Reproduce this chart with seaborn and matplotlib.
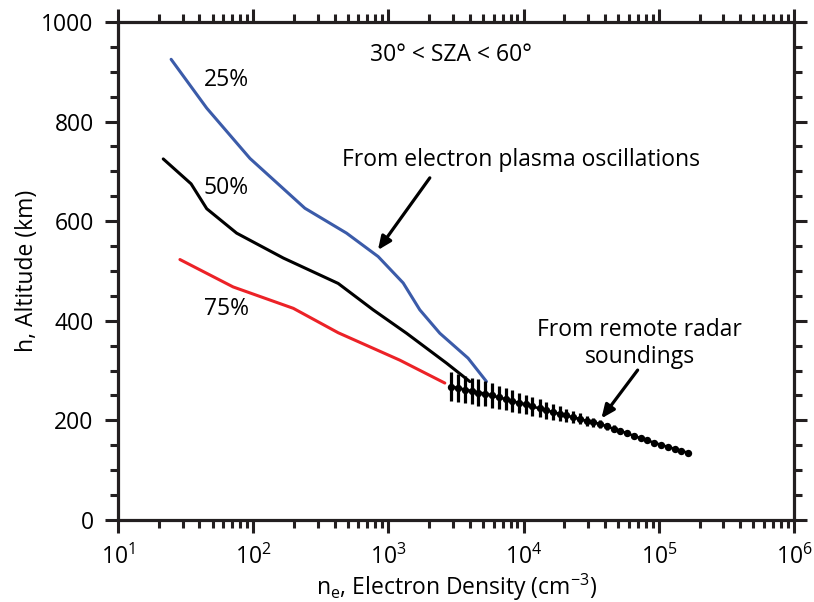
import matplotlib
matplotlib.use("Agg")
import matplotlib.pyplot as plt
import numpy as np
import pandas as pd
import seaborn as sns
from matplotlib.ticker import MultipleLocator, LogLocator, NullFormatter

# ---- data ----
q25_ne = [24.7, 45.3, 94.6, 241, 490, 839, 1285, 1706, 2399, 3880, 5310]
q25_h = [925, 827, 726, 626, 576, 529, 476, 422, 375, 325, 278]

q50_ne = [21.6, 34.7, 45.3, 75.4, 167, 425, 771, 1361, 2688, 4000]
q50_h = [725, 675, 625, 576, 526, 475, 422, 375, 315, 278]

q75_ne = [28.7, 71, 198, 425, 1213, 2612]
q75_h = [523, 468, 425, 376, 321, 275]

radar_ne = [2920, 3280, 3680, 4130, 4630, 5200, 5830, 6550, 7350, 8240,
            9250, 10400, 11600, 13100, 14700, 16400, 18500, 20700, 23200, 26100,
            29200, 32800, 36800, 41300, 46300, 52000, 58300, 65500, 73500, 82400,
            92500, 104000, 116000, 131000, 147000, 164000]
radar_h = [268, 265, 262, 259, 256, 254, 250, 246, 243, 239,
           235, 232, 228, 224, 220, 217, 213, 210, 206, 203,
           199, 196, 193, 188, 183, 179, 174, 169, 164, 160,
           155, 151, 147, 143, 139, 135]
radar_err = [29, 28, 28, 27, 27, 26, 25, 24, 23, 22,
             21, 20, 19, 18, 17, 16, 15, 13, 12, 11,
             10, 9, 8, 7, 7, 6, 5, 5, 4, 4,
             3, 3, 2, 2, 2, 2]

curve_names = ["25%", "50%", "75%"]
curve_colors = {"25%": "#3b5ba9", "50%": "#000000", "75%": "#ec2227"}

# ---- style ----
sns.set_style("ticks")
plt.rcParams["font.family"] = ["Open Sans", "DejaVu Sans"]
plt.rcParams["mathtext.default"] = "regular"
plt.rcParams["text.color"] = "black"
plt.rcParams["axes.labelcolor"] = "black"
plt.rcParams["xtick.color"] = "black"
plt.rcParams["ytick.color"] = "black"

FS = 16.5

fig = plt.figure(figsize=(8.14, 6.02), dpi=100)
ax = fig.add_axes([0.145, 0.1362, 0.8305, 0.8273])

df = pd.concat([
    pd.DataFrame({"ne": q25_ne, "h": q25_h, "q": "25%"}),
    pd.DataFrame({"ne": q50_ne, "h": q50_h, "q": "50%"}),
    pd.DataFrame({"ne": q75_ne, "h": q75_h, "q": "75%"}),
], ignore_index=True)

sns.lineplot(data=df, x="ne", y="h", hue="q", hue_order=curve_names,
             palette=curve_colors, sort=False, estimator=None,
             linewidth=2.2, legend=False, ax=ax)

ax.errorbar(radar_ne, radar_h, yerr=radar_err, fmt="none",
            ecolor="black", elinewidth=2.3, capsize=0, zorder=4)
sns.lineplot(x=radar_ne, y=radar_h, color="black", marker="o",
             markersize=5.3, markeredgewidth=0, linewidth=1.8,
             sort=False, estimator=None, ax=ax, zorder=5)

ax.set_xscale("log")
ax.set_xlim(10, 1e6)
ax.set_ylim(0, 1000)

ax.yaxis.set_major_locator(MultipleLocator(200))
ax.yaxis.set_minor_locator(MultipleLocator(50))
ax.xaxis.set_major_locator(LogLocator(base=10, numticks=10))
ax.xaxis.set_minor_locator(LogLocator(base=10, subs=np.arange(2, 10), numticks=20))
ax.xaxis.set_minor_formatter(NullFormatter())

for s in ax.spines.values():
    s.set_linewidth(2.3)
    s.set_color("#231f20")
ax.tick_params(which="major", length=9.5, width=2.2, color="#231f20",
               direction="out", top=True, right=True, labelsize=FS)
ax.tick_params(which="minor", length=5.5, width=2.2, color="#231f20",
               direction="out", top=True, right=True)
ax.tick_params(axis="y", which="major", pad=8)
ax.tick_params(axis="x", which="major", pad=8)

ax.set_xlabel(r"n$_{e}$, Electron Density (cm$^{-3}$)", fontsize=FS)
ax.set_ylabel("h, Altitude (km)", fontsize=FS)
ax.xaxis.set_label_coords(0.5, -0.104)
ax.yaxis.set_label_coords(-0.117, 0.5)

# ---- annotations ----
ax.text(0.493, 0.934, "30° < SZA < 60°", transform=ax.transAxes,
        ha="center", va="center", fontsize=FS)
ax.text(63, 883, "25%", ha="center", va="center", fontsize=FS)
ax.text(63, 666, "50%", ha="center", va="center", fontsize=FS)
ax.text(63, 423, "75%", ha="center", va="center", fontsize=FS)

arrow_style = dict(arrowstyle="-|>,head_length=0.8,head_width=0.35",
                   color="black", lw=2.3, shrinkA=0, shrinkB=0)
ax.text(9500, 723, "From electron plasma oscillations",
        ha="center", va="center", fontsize=FS)
ax.annotate("", xy=(836, 542), xytext=(2023, 687), arrowprops=arrow_style)

ax.text(72000, 355, "From remote radar\nsoundings", ha="center", va="center",
        fontsize=FS, linespacing=1.15)
ax.annotate("", xy=(37600, 204), xytext=(69700, 301), arrowprops=arrow_style)

fig.savefig("out.png", dpi=100, facecolor="white")
